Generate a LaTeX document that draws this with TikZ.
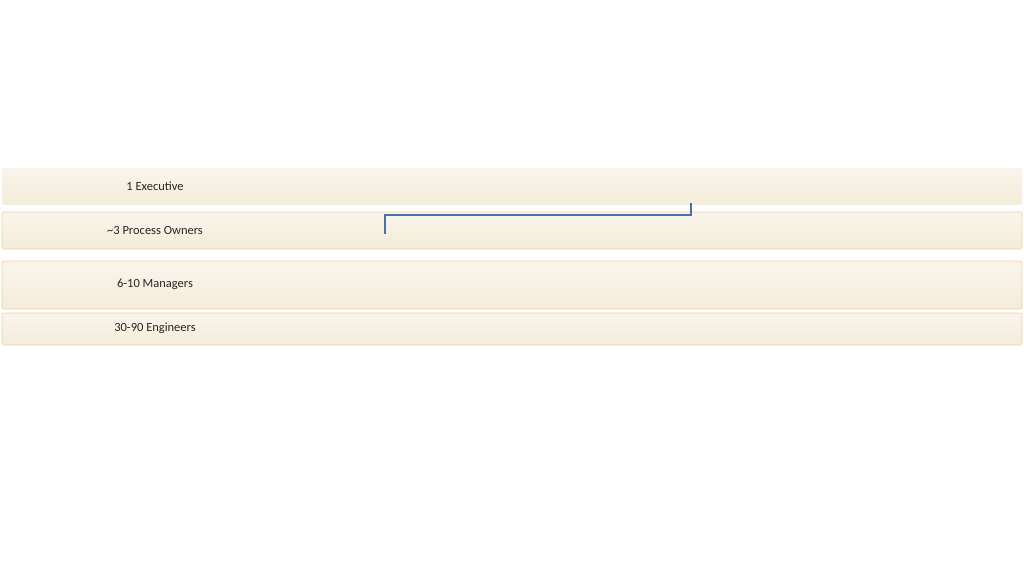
\documentclass[tikz,border=0pt]{standalone}
\usepackage{fontspec}
\setmainfont{Carlito}
\usetikzlibrary{positioning}
\definecolor{bandcolor}{RGB}{244,236,218}
\definecolor{bandedge}{RGB}{250,200,160}
\definecolor{boxedge}{RGB}{232,118,40}
\definecolor{boxfill}{RGB}{250,190,140}
\definecolor{linkcolor}{RGB}{72,112,170}
\tikzset{
  band/.style={draw=bandedge, line width=0.6pt, top color=bandcolor!50, bottom color=bandcolor, rounded corners=2pt},
  bandlabel/.style={font=\fontsize{12.5}{14}\selectfont, text=black!85},
  unit/.style={draw=boxedge, line width=1.2pt, top color=white, bottom color=boxfill, rounded corners=2pt,
    font=\fontsize{6}{7}\selectfont, align=center, inner sep=1pt},
  link/.style={draw=linkcolor, line width=2.6pt}
}
\begin{document}
\begin{tikzpicture}[x=1pt,y=-1pt]
    \useasboundingbox (0,0) rectangle (1024,562);
    % Bands
    \path[band, draw=none] (2,168) rectangle (1022,205);
    \path[band] (2,212) rectangle (1022,249);
    \path[band] (2,261) rectangle (1022,309);
    \path[band] (2,313) rectangle (1022,345);
    \node[bandlabel] (l1) at (155,186) {1 Executive};
    \node[bandlabel] (l2) at (155,230) {\textasciitilde3 Process Owners};
    \node[bandlabel] (l3) at (155,284) {6-10 Managers};
    \node[bandlabel] (l4) at (155,328) {30-90 Engineers};

    % Links
    \draw[link] (691,203) -- (691,215) -| (385,234);
    \path (0,0);
\end{tikzpicture}
\end{document}
